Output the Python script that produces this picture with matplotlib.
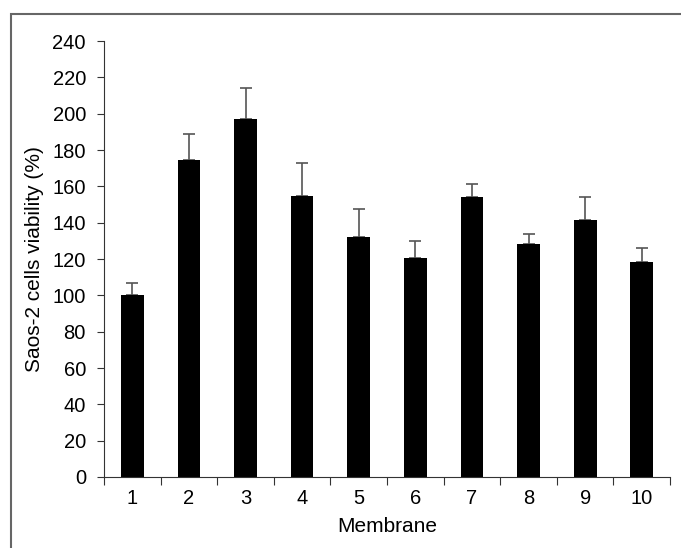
import numpy as np
import matplotlib
matplotlib.use("Agg")
import matplotlib.pyplot as plt
from matplotlib.patches import Rectangle
from matplotlib.ticker import FixedLocator, NullFormatter

plt.rcParams['font.family'] = ['Liberation Sans Narrow', 'Liberation Sans', 'DejaVu Sans']

# data
membranes = ["1", "2", "3", "4", "5", "6", "7", "8", "9", "10"]
viability = [100, 174.5, 197, 154.5, 132, 120.4, 154, 128.3, 141.6, 118.5]
err_up = [6.8, 14.3, 17, 18.2, 15.6, 9.3, 7.1, 5.3, 12.5, 7.7]

fig = plt.figure(figsize=(6.81, 5.48), dpi=100)
ax = fig.add_axes([0.1527, 0.1296, 0.8313, 0.7954])

x = np.arange(1, len(membranes) + 1)
ax.bar(x, viability, width=0.4, color="black", zorder=2)
ax.errorbar(x, viability, yerr=[np.zeros(len(x)), err_up], fmt="none",
            ecolor="#555555", elinewidth=1.2, capsize=4, capthick=1.2, zorder=1)

ax.set_xlim(0.5, 10.5)
ax.set_ylim(0, 240)
ax.set_yticks(np.arange(0, 241, 20))
ax.spines["top"].set_visible(False)
ax.spines["right"].set_visible(False)
ax.spines["left"].set_color("#333333")
ax.spines["bottom"].set_color("#333333")

# ticks at category boundaries, labels in the middle
ax.xaxis.set_major_locator(FixedLocator(np.arange(0.5, 11, 1)))
ax.xaxis.set_major_formatter(NullFormatter())
ax.xaxis.set_minor_locator(FixedLocator(x))
ax.set_xticklabels(membranes, minor=True)
ax.tick_params(axis="x", which="major", direction="out", length=6, color="#333333")
ax.tick_params(axis="x", which="minor", length=0, pad=9, labelsize=14.5)
ax.tick_params(axis="y", direction="out", length=5, color="#333333", labelsize=14.5, pad=8)

ax.set_xlabel("Membrane", fontsize=15, labelpad=6)
ax.set_ylabel("Saos-2 cells viability (%)", fontsize=15, labelpad=6)

# frame around the figure (left and top edges visible)
fig.patches.append(Rectangle((11 / 681, -0.1), 1.2, 1.1 - 14 / 548,
                             transform=fig.transFigure, fill=False,
                             edgecolor="#666666", linewidth=1.5))

plt.savefig("out.png", dpi=100)
